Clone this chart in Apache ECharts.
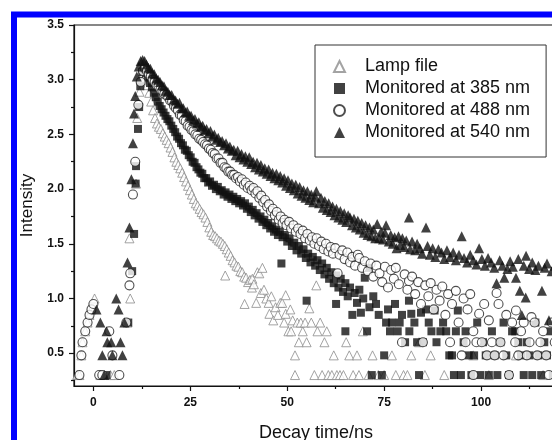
<!DOCTYPE html>
<html>
<head>
<meta charset="utf-8">
<script src="https://cdn.jsdelivr.net/npm/echarts@6/dist/echarts.min.js"></script>
<style>
html, body { margin: 0; padding: 0; background: #fff; }
#chart { width: 552px; height: 440px; }
</style>
</head>
<body>
<div id="chart"></div>
<script>
// tick positions
var xMajorTicks = [0, 25, 50, 75, 100, 125]
var xMinorTicks = [12.5, 37.5, 62.5, 87.5, 112.5]
var yMajorTicks = [0.5, 1.0, 1.5, 2.0, 2.5, 3.0, 3.5]
var yMinorTicks = [0.25, 0.75, 1.25, 1.75, 2.25, 2.75, 3.25]

var seriesNames = ['Lamp file', 'Monitored at 385 nm', 'Monitored at 488 nm', 'Monitored at 540 nm']

// [time ns, intensity]
var lampFile = [
  [-4.2, 0.30], [-3.6, 0.30], [-3.1, 0.48], [-2.8, 0.60], [-2.1, 0.70], [-1.5, 0.78], [-1.0, 0.85], [-0.5, 0.90], [0.3, 1.00],
  [1.8, 0.30], [4.4, 0.30], [5.4, 0.30], [8.8, 0.78], [9.5, 1.00], [9.3, 1.55], [11.0, 2.05], [11.3, 2.65], [11.9, 2.89], [12.4, 3.02],
  [12.9, 3.06], [13.4, 3.04], [13.9, 2.95], [14.4, 2.88], [14.9, 2.80], [15.4, 2.72], [15.9, 2.65], [16.4, 2.60], [16.9, 2.57],
  [17.4, 2.55], [17.9, 2.51], [18.4, 2.48], [18.9, 2.45], [19.4, 2.42], [19.9, 2.38], [20.4, 2.34], [20.9, 2.29], [21.4, 2.25],
  [21.9, 2.22], [22.4, 2.19], [22.9, 2.15], [23.4, 2.11], [23.9, 2.07], [24.4, 2.03], [24.9, 1.99], [25.4, 1.95], [25.9, 1.91],
  [26.4, 1.87], [26.9, 1.85], [27.4, 1.82], [27.9, 1.79], [28.4, 1.77], [28.9, 1.74], [29.4, 1.70], [29.9, 1.65], [30.4, 1.61],
  [30.9, 1.58], [31.4, 1.57], [31.9, 1.55], [32.4, 1.53], [32.9, 1.52], [33.4, 1.50], [33.9, 1.48], [34.0, 1.21], [34.4, 1.45],
  [34.9, 1.42], [35.4, 1.39], [35.9, 1.35], [36.4, 1.33], [36.9, 1.30], [37.4, 1.29], [37.9, 1.25], [38.4, 1.24], [38.9, 1.20],
  [39.4, 1.19], [39.0, 0.95], [39.9, 1.15], [40.4, 1.17], [40.9, 1.10], [41.0, 1.18], [41.4, 1.13], [42.0, 0.96], [42.3, 1.24],
  [42.8, 1.23], [43.2, 1.05], [43.6, 1.28], [44.0, 1.08], [44.6, 1.00], [45.2, 0.96], [45.4, 0.86], [45.9, 1.02], [46.4, 0.80],
  [47.0, 0.92], [47.6, 0.85], [48.2, 0.96], [48.7, 0.96], [49.2, 0.78], [49.6, 1.03], [49.6, 0.86], [50.3, 0.70], [50.8, 0.90],
  [51.0, 0.70], [51.4, 0.80], [52.0, 0.48], [52.0, 0.30], [52.6, 0.78], [53.0, 0.60], [53.5, 0.78], [54.0, 0.70], [54.6, 0.78],
  [55.0, 0.60], [55.7, 0.91], [56.2, 0.78], [57.0, 0.30], [57.5, 1.12], [57.8, 0.70], [58.5, 0.78], [59.0, 0.30], [59.6, 0.60],
  [60.2, 0.70], [60.6, 0.30], [61.5, 0.30], [62.0, 0.48], [62.8, 0.30], [63.6, 0.30], [64.5, 0.30], [65.2, 0.60], [66.0, 0.48],
  [67.0, 0.30], [68.0, 0.48], [68.5, 0.30], [69.5, 0.70], [71.0, 0.30], [72.0, 0.48], [73.5, 0.30], [75.0, 0.30], [77.0, 0.48],
  [78.0, 0.30], [80.0, 0.30], [81.0, 0.30], [82.0, 0.48], [84.0, 0.60], [85.5, 0.30], [87.0, 0.48], [90.5, 0.30], [98.0, 0.48],
  [102.0, 0.30], [109.0, 0.48], [116.0, 0.30]
]

var mon385 = [
  [3.4, 0.30], [9.0, 0.78], [10.0, 1.25], [10.5, 1.59], [10.9, 2.05], [11.0, 2.21], [11.5, 2.55], [11.8, 2.75], [12.1, 2.94], [12.6, 3.07],
  [13.1, 3.10], [13.6, 3.06], [14.1, 3.02], [14.6, 2.97], [15.1, 2.93], [15.6, 2.88], [16.1, 2.84], [16.6, 2.80], [17.1, 2.76],
  [17.6, 2.73], [18.1, 2.70], [18.6, 2.67], [19.1, 2.64], [19.6, 2.62], [20.1, 2.58], [20.6, 2.55], [21.1, 2.52], [21.6, 2.48],
  [22.1, 2.46], [22.6, 2.42], [23.1, 2.40], [23.6, 2.36], [24.1, 2.35], [24.6, 2.31], [25.1, 2.29], [25.6, 2.25], [26.1, 2.24],
  [26.6, 2.20], [27.1, 2.18], [27.6, 2.15], [28.1, 2.14], [28.6, 2.10], [29.1, 2.10], [29.6, 2.06], [30.1, 2.07], [30.6, 2.03],
  [31.1, 2.04], [31.6, 2.00], [32.1, 2.02], [32.6, 1.98], [33.1, 1.99], [33.6, 1.95], [34.1, 1.97], [34.6, 1.93], [35.1, 1.95],
  [35.6, 1.91], [36.1, 1.93], [36.6, 1.89], [37.1, 1.91], [37.6, 1.87], [38.1, 1.89], [38.6, 1.85], [39.1, 1.87], [39.6, 1.82],
  [40.1, 1.84], [40.6, 1.79], [41.1, 1.81], [41.6, 1.76], [42.1, 1.78], [42.6, 1.73], [43.1, 1.75], [43.6, 1.70], [44.1, 1.72],
  [44.6, 1.67], [45.1, 1.69], [45.6, 1.64], [46.1, 1.66], [46.6, 1.61], [47.1, 1.63], [47.6, 1.58], [48.1, 1.61], [48.5, 1.32],
  [48.8, 1.56], [49.4, 1.58], [50.0, 1.52], [50.6, 1.55], [51.2, 1.48], [51.8, 1.51], [52.4, 1.44], [53.0, 1.48], [53.6, 1.41],
  [54.2, 1.45], [54.8, 1.37], [55.0, 0.98], [55.4, 1.41], [56.0, 1.33], [56.6, 1.38], [57.2, 1.30], [57.8, 1.35], [58.4, 1.26],
  [59.0, 1.32], [59.6, 1.22], [60.2, 1.28], [60.8, 1.18], [61.4, 1.24], [62.0, 1.14], [62.6, 0.95], [62.6, 1.21], [63.2, 1.10],
  [63.8, 1.18], [64.4, 1.06], [65.0, 0.70], [65.0, 1.14], [65.6, 1.02], [66.2, 1.10], [66.8, 0.85], [67.4, 1.05], [68.0, 0.96],
  [68.6, 1.08], [69.0, 0.87], [69.6, 1.00], [70.0, 1.19], [70.6, 0.70], [71.0, 1.28], [71.2, 0.92], [71.8, 0.30], [72.2, 1.02],
  [72.9, 0.95], [73.6, 0.85], [74.4, 0.30], [75.0, 0.48], [75.5, 0.78], [76.0, 0.90], [76.5, 0.70], [77.0, 0.78], [77.8, 0.95],
  [78.5, 0.70], [79.0, 0.78], [79.6, 0.85], [80.4, 0.60], [81.4, 0.98], [81.5, 0.70], [82.0, 0.86], [82.8, 0.78], [83.5, 0.60],
  [84.0, 0.30], [84.5, 0.87], [85.0, 0.60], [85.8, 0.90], [86.5, 0.78], [87.2, 0.70], [88.0, 0.89], [88.5, 0.60], [89.5, 0.70],
  [90.2, 0.78], [91.0, 0.70], [91.8, 0.48], [92.5, 0.48], [93.0, 0.30], [93.5, 0.70], [94.0, 0.89], [94.8, 0.30], [95.5, 0.60],
  [96.0, 0.70], [96.8, 0.48], [97.5, 0.30], [98.2, 0.48], [99.0, 0.78], [99.8, 0.30], [100.5, 0.60], [101.2, 0.48], [102.0, 0.30],
  [102.8, 0.70], [103.5, 0.48], [104.2, 0.30], [105.0, 0.60], [105.8, 0.78], [106.5, 0.48], [107.2, 0.30], [108.0, 0.70],
  [108.8, 0.70], [109.6, 0.60], [110.3, 0.48], [111.0, 0.30], [111.8, 0.60], [112.5, 0.48], [113.2, 0.30], [114.0, 0.78],
  [114.8, 0.48], [115.5, 0.30], [116.3, 0.60], [117.0, 0.48], [117.8, 0.70], [118.5, 0.30]
]

var mon488 = [
  [-3.6, 0.30], [-3.1, 0.48], [-2.8, 0.60], [-2.1, 0.70], [-1.5, 0.78], [-1.0, 0.85], [-0.5, 0.90], [0.0, 0.95], [1.5, 0.30],
  [2.3, 0.30], [4.1, 0.70], [4.9, 0.48], [6.7, 0.30], [8.5, 0.78], [9.3, 1.12], [9.5, 1.23], [10.2, 1.95], [10.8, 2.25],
  [11.6, 2.77], [12.2, 2.98], [12.8, 3.08],
  [13.3, 3.10], [13.8, 3.08], [14.3, 3.05], [14.8, 3.03], [15.3, 3.00], [15.8, 2.98], [16.3, 2.95], [16.8, 2.94], [17.3, 2.91],
  [17.8, 2.90], [18.3, 2.87], [18.8, 2.86], [19.3, 2.84], [19.8, 2.81], [20.3, 2.80], [20.8, 2.76], [21.3, 2.74], [21.8, 2.72],
  [22.3, 2.68], [22.8, 2.67], [23.3, 2.63], [23.8, 2.62], [24.3, 2.58], [24.8, 2.57], [25.3, 2.54], [25.8, 2.53], [26.3, 2.50],
  [26.8, 2.49], [27.3, 2.46], [27.8, 2.45], [28.3, 2.43], [28.8, 2.41], [29.3, 2.40], [29.8, 2.37], [30.3, 2.36], [30.8, 2.33],
  [31.3, 2.32], [31.8, 2.28], [32.3, 2.28], [32.8, 2.24], [33.3, 2.24], [33.8, 2.20], [34.3, 2.19], [34.8, 2.16], [35.3, 2.16],
  [35.8, 2.13], [36.3, 2.13], [36.8, 2.10], [37.3, 2.11], [37.8, 2.07], [38.3, 2.09], [38.8, 2.04], [39.3, 2.06], [39.8, 2.01],
  [40.3, 2.03], [40.8, 1.99], [41.3, 2.01], [41.8, 1.96], [42.3, 1.98], [42.8, 1.92], [43.3, 1.94], [43.8, 1.88], [44.3, 1.90],
  [44.8, 1.84], [45.3, 1.86], [45.8, 1.80], [46.3, 1.82], [46.8, 1.76], [47.3, 1.79], [47.8, 1.72], [48.3, 1.75], [48.8, 1.69],
  [49.3, 1.72], [49.8, 1.67], [50.5, 1.70], [51.0, 1.64], [51.6, 1.67], [52.2, 1.61], [52.8, 1.64], [53.4, 1.59], [54.0, 1.62],
  [54.6, 1.55], [55.2, 1.59], [55.8, 1.53], [56.4, 1.56], [57.0, 1.50], [57.6, 1.55], [58.2, 1.48], [58.8, 1.52], [59.4, 1.45],
  [60.0, 1.50], [60.6, 1.43], [61.2, 1.47], [61.8, 1.41], [62.4, 1.46], [63.0, 1.23], [63.5, 1.40], [64.2, 1.44], [64.8, 1.36],
  [65.5, 1.42], [66.2, 1.33], [66.8, 1.38], [67.5, 1.30], [68.2, 1.40], [68.6, 1.37], [69.3, 1.28], [70.0, 1.34], [70.8, 1.25],
  [71.5, 1.32], [72.2, 1.20], [73.0, 1.30], [73.8, 1.23], [74.5, 1.15], [75.2, 1.29], [76.0, 1.10], [76.8, 1.26], [77.5, 1.18],
  [78.0, 1.28], [78.8, 1.13], [79.6, 0.60], [80.3, 1.22], [81.0, 1.08], [81.4, 1.16], [82.2, 1.20], [83.0, 1.04], [83.8, 1.15],
  [84.5, 0.95], [85.0, 0.60], [85.6, 1.12], [86.4, 1.02], [87.0, 1.14], [87.8, 0.90], [88.5, 1.08], [89.3, 0.98], [90.0, 1.11],
  [90.8, 0.85], [91.5, 1.04], [92.0, 0.60], [92.5, 0.95], [93.5, 1.07], [94.2, 0.78], [95.0, 0.48], [95.5, 1.00], [96.0, 0.60],
  [96.5, 0.90], [97.2, 1.04], [98.0, 0.30], [98.0, 0.70], [98.8, 0.60], [99.5, 0.86], [100.2, 0.60], [100.8, 0.95], [101.5, 0.48],
  [102.0, 0.80], [102.8, 0.60], [103.5, 0.48], [104.0, 1.05], [104.5, 0.95], [105.0, 0.60], [105.8, 0.48], [106.5, 0.85],
  [107.2, 0.30], [108.0, 0.78], [108.8, 0.60], [109.0, 0.89], [109.6, 0.48], [110.3, 0.70], [111.0, 0.78], [111.8, 0.48],
  [112.5, 0.60], [113.0, 0.83], [113.8, 0.78], [114.5, 0.48], [115.3, 0.60], [116.0, 0.70], [116.8, 0.48], [117.5, 0.30],
  [118.2, 0.78], [119.0, 0.60]
]

var mon540 = [
  [0.8, 0.90], [1.8, 0.78], [2.3, 0.48], [2.8, 0.30], [3.4, 0.70], [3.6, 0.60], [4.6, 0.60], [4.9, 0.48], [5.9, 1.00], [6.5, 0.90],
  [7.0, 0.60], [7.5, 0.48], [8.0, 0.78], [8.8, 1.33], [9.3, 1.65], [9.8, 2.09], [10.2, 2.42], [10.5, 2.69], [10.8, 2.85],
  [11.2, 3.03], [11.7, 3.12], [12.2, 3.17],
  [12.7, 3.18], [13.2, 3.17], [13.7, 3.14], [14.2, 3.11], [14.7, 3.10], [15.2, 3.06], [15.7, 3.05], [16.2, 3.01], [16.7, 3.00],
  [17.2, 2.98], [17.7, 2.95], [18.2, 2.94], [18.7, 2.90], [19.2, 2.89], [19.7, 2.86], [20.2, 2.86], [20.7, 2.82], [21.2, 2.81],
  [21.7, 2.78], [22.2, 2.79], [22.7, 2.74], [23.2, 2.74], [23.7, 2.70], [24.2, 2.71], [24.7, 2.67], [25.2, 2.67], [25.7, 2.63],
  [26.2, 2.64], [26.7, 2.60], [27.2, 2.61], [27.7, 2.57], [28.2, 2.58], [28.7, 2.54], [29.2, 2.55], [29.7, 2.51], [30.2, 2.53],
  [30.7, 2.48], [31.2, 2.50], [31.7, 2.45], [32.2, 2.47], [32.7, 2.43], [33.2, 2.44], [33.7, 2.40], [34.2, 2.42], [34.7, 2.37],
  [35.2, 2.39], [35.7, 2.35], [36.2, 2.36], [36.7, 2.31], [37.2, 2.35], [37.7, 2.29], [38.2, 2.32], [38.7, 2.27], [39.2, 2.30],
  [39.7, 2.25], [40.2, 2.29], [40.7, 2.23], [41.2, 2.25], [41.7, 2.20], [42.2, 2.24], [42.7, 2.18], [43.2, 2.22], [43.7, 2.16],
  [44.2, 2.19], [44.7, 2.14], [45.2, 2.18], [45.7, 2.12], [46.2, 2.15], [46.7, 2.10], [47.2, 2.14], [47.7, 2.08], [48.2, 2.12],
  [48.7, 2.06], [49.2, 2.10], [49.7, 2.03], [50.2, 2.08], [50.7, 2.01], [51.2, 2.05], [51.7, 1.99], [52.2, 2.04], [52.7, 1.96],
  [53.2, 2.02], [53.7, 1.94], [54.2, 1.99], [54.7, 1.92], [55.2, 1.98], [55.7, 1.90], [56.2, 1.95], [56.7, 1.88], [57.2, 1.93],
  [57.5, 1.98], [58.2, 1.87], [58.7, 1.92], [59.2, 1.83], [59.7, 1.89], [60.2, 1.81], [60.7, 1.87], [61.2, 1.79], [61.7, 1.84],
  [62.2, 1.76], [62.7, 1.82], [63.2, 1.74], [63.7, 1.80], [64.2, 1.72], [64.7, 1.78], [65.2, 1.70], [65.7, 1.76], [66.2, 1.74],
  [66.7, 1.67], [67.2, 1.73], [67.7, 1.65], [68.2, 1.71], [68.7, 1.63], [69.2, 1.69], [69.7, 1.60], [70.2, 1.67], [70.7, 1.58],
  [71.2, 1.65], [71.7, 1.57], [72.2, 1.63], [72.7, 1.55], [73.2, 1.68], [73.7, 1.55], [74.2, 1.61], [74.7, 1.54], [75.2, 1.60],
  [75.5, 1.67], [76.2, 1.52], [76.7, 1.58], [77.2, 1.50], [77.7, 1.56], [78.2, 1.46], [78.7, 1.57], [79.2, 1.49], [79.7, 1.55],
  [80.2, 1.47], [80.7, 1.53], [81.4, 1.74], [81.7, 1.45], [82.2, 1.52], [83.0, 1.44], [83.5, 1.50], [84.2, 1.46], [84.8, 1.41],
  [85.8, 1.65], [86.2, 1.48], [86.8, 1.40], [87.5, 1.46], [88.2, 1.38], [89.0, 1.45], [89.8, 1.42], [90.5, 1.36], [91.2, 1.44],
  [92.0, 1.38], [92.8, 1.42], [93.5, 1.35], [94.3, 1.40], [95.0, 1.57], [95.6, 1.37], [96.4, 1.33], [97.2, 1.40], [98.0, 1.35],
  [98.8, 1.31], [99.5, 1.46], [100.2, 1.36], [101.0, 1.30], [101.8, 1.37], [102.6, 1.33], [103.4, 1.28], [104.0, 1.14],
  [104.8, 1.35], [105.5, 1.30], [106.0, 1.19], [106.8, 1.27], [107.5, 1.34], [108.2, 1.29], [109.0, 1.19], [109.6, 1.36],
  [110.0, 1.07], [110.5, 0.85], [111.0, 1.30], [111.6, 1.39], [111.5, 1.01], [112.4, 1.27], [113.2, 1.33], [114.0, 1.26],
  [114.8, 1.30], [115.7, 1.07], [116.4, 1.28], [117.0, 1.32], [117.5, 0.80], [118.2, 1.25], [119.0, 1.30], [120.0, 1.27]
]

var ink = '#111'
var font = 'Liberation Sans, Arial, Helvetica, sans-serif'

var chart = echarts.init(document.getElementById('chart'))

// extra axis that only carries the short minor ticks
function minorAxis (min, max, ticks, pos) {
  return {
    type: 'value',
    min: min,
    max: max,
    position: pos,
    axisLine: { show: false, onZero: false },
    axisTick: { show: true, length: 3, customValues: ticks, lineStyle: { color: ink, width: 1.2 } },
    axisLabel: { show: false },
    splitLine: { show: false }
  }
}

var option = {
  animation: false,
  backgroundColor: '#fff',
  textStyle: { fontFamily: font },
  graphic: [
    {
      type: 'rect',
      silent: true,
      z: -10,
      shape: { x: 14, y: 14.5, width: 620, height: 520 },
      style: { fill: 'none', stroke: '#0000ff', lineWidth: 6 }
    }
  ],
  grid: {
    left: 74,
    top: 25,
    right: -26,
    bottom: 54,
    outerBoundsMode: 'none',
    containLabel: false,
    show: true,
    borderColor: ink,
    borderWidth: 1.2
  },
  legend: {
    orient: 'vertical',
    left: 315,
    top: 45,
    padding: [12, 16, 15, 18],
    itemGap: 3,
    itemWidth: 11,
    itemHeight: 11,
    borderColor: '#333',
    borderWidth: 1,
    backgroundColor: '#fff',
    textStyle: { fontSize: 18, lineHeight: 19, color: ink, padding: [0, 0, 0, 15] },
    data: seriesNames
  },
  xAxis: [
    {
      type: 'value',
      min: -5,
      max: 125,
      position: 'bottom',
      axisLine: { show: true, onZero: false, lineStyle: { color: ink, width: 1.2 } },
      axisTick: { show: true, length: 5, customValues: xMajorTicks, lineStyle: { color: ink, width: 1.2 } },
      axisLabel: { customValues: xMajorTicks, margin: 11, fontSize: 12, fontWeight: 'bold', color: ink },
      splitLine: { show: false },
      name: 'Decay time/ns',
      nameLocation: 'middle',
      nameGap: 38,
      nameTextStyle: { fontSize: 18, color: ink, padding: [0, 20, 0, 0] }
    },
    minorAxis(-5, 125, xMinorTicks, 'bottom')
  ],
  yAxis: [
    {
      type: 'value',
      min: 0.2,
      max: 3.5,
      position: 'left',
      axisLine: { show: true, onZero: false, lineStyle: { color: ink, width: 1.2 } },
      axisTick: { show: true, length: 5, customValues: yMajorTicks, lineStyle: { color: ink, width: 1.2 } },
      axisLabel: {
        customValues: yMajorTicks,
        margin: 10,
        fontSize: 12,
        fontWeight: 'bold',
        color: ink,
        formatter: function (v) { return v.toFixed(1) }
      },
      splitLine: { show: false },
      name: 'Intensity',
      nameLocation: 'middle',
      nameGap: 38,
      nameTextStyle: { fontSize: 17, color: ink }
    },
    minorAxis(0.2, 3.5, yMinorTicks, 'left')
  ],
  series: [
    {
      name: seriesNames[0],
      type: 'scatter',
      symbol: 'triangle',
      symbolSize: 9,
      itemStyle: { color: '#fff', borderColor: '#8c8c8c', borderWidth: 1 },
      data: lampFile
    },
    {
      name: seriesNames[1],
      type: 'scatter',
      symbol: 'rect',
      symbolSize: 8,
      itemStyle: { color: '#111' },
      data: mon385
    },
    {
      name: seriesNames[2],
      type: 'scatter',
      symbol: 'circle',
      symbolSize: 9,
      itemStyle: { color: '#fff', borderColor: '#222', borderWidth: 1.1 },
      data: mon488
    },
    {
      name: seriesNames[3],
      type: 'scatter',
      symbol: 'triangle',
      symbolSize: 10,
      itemStyle: { color: '#111' },
      data: mon540
    }
  ]
}

chart.setOption(option)
</script>
</body>
</html>
